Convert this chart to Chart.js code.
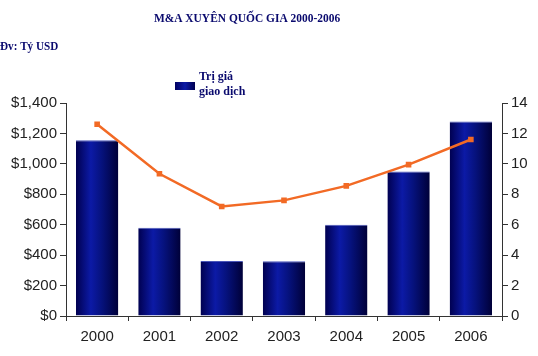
<!DOCTYPE html>
<html><head><meta charset="utf-8">
<script src="https://cdn.jsdelivr.net/npm/chart.js@4/dist/chart.umd.min.js"></script>
<style>html,body{margin:0;padding:0;background:#fff}#wrap{width:538px;height:356px;position:relative}</style>
</head><body><div id="wrap"><canvas id="c" width="538" height="356"></canvas></div>
<script>
const categories = ['2000','2001','2002','2003','2004','2005','2006'];
const dealValues = [1155, 580, 362, 360, 600, 950, 1278];
const dealCounts = [12.6, 9.35, 7.2, 7.6, 8.55, 9.95, 11.6];
const leftTicks = [0,200,400,600,800,1000,1200,1400];
const rightTicks = [0,2,4,6,8,10,12,14];
const titleText = 'M&A XUYÊN QUỐC GIA 2000-2006';
const unitText = 'Đv: Tỷ USD';
const legendLines = ['Trị giá','giao dịch'];

const navy = '#0a0a6e';
const serif = '"Liberation Serif","Times New Roman",serif';
const sans = 'Arial, "Liberation Sans", sans-serif';

function barFill(ctx){
  const chart = ctx.chart;
  if (!chart.chartArea || !chart.scales.x) return '#000080';
  const xs = chart.scales.x;
  const x = xs.getPixelForValue(ctx.dataIndex);
  const w = xs.width / categories.length * 0.68;
  const g = chart.ctx.createLinearGradient(x - w/2, 0, x + w/2, 0);
  g.addColorStop(0, '#000050');
  g.addColorStop(0.35, '#0c1aa6');
  g.addColorStop(0.6, '#06127e');
  g.addColorStop(1, '#000038');
  return g;
}

function scaledText(c, text, x, y, sx, align){
  c.save();
  c.translate(x, y);
  c.scale(sx, 1);
  c.textAlign = align;
  c.fillText(text, 0, 0);
  c.restore();
}

const decor = {
  id: 'decor',
  afterDraw(chart){
    const c = chart.ctx;
    c.save();
    c.fillStyle = navy;
    c.textBaseline = 'middle';
    c.font = 'bold 13px ' + serif;
    scaledText(c, titleText, 247, 19, 0.88, 'center');
    c.font = 'bold 12px ' + serif;
    scaledText(c, unitText, 0, 47, 0.93, 'left');
    // legend
    const g = c.createLinearGradient(175, 0, 195, 0);
    g.addColorStop(0, '#000060'); g.addColorStop(0.5, '#0c1aa6'); g.addColorStop(1, '#000050');
    c.fillStyle = g;
    c.fillRect(175, 82, 20, 8);
    c.fillStyle = navy;
    c.textAlign = 'left';
    c.fillText(legendLines[0], 199, 77);
    c.fillText(legendLines[1], 199, 92);
    c.restore();
  }
};

new Chart(document.getElementById('c'), {
  data: {
    labels: categories,
    datasets: [
      { type: 'line', label: 'Số giao dịch', data: dealCounts, yAxisID: 'y1',
        borderColor: '#f26a25', backgroundColor: '#f26a25', borderWidth: 2.5,
        pointStyle: 'rect', pointRadius: 2.2, tension: 0, order: 0 },
      { type: 'bar', label: 'Trị giá giao dịch', data: dealValues, yAxisID: 'y',
        backgroundColor: barFill, borderColor: '#4a56b8', borderWidth: {top:1,left:0,right:0,bottom:0},
        categoryPercentage: 1, barPercentage: 0.68, order: 1 }
    ]
  },
  options: {
    responsive: false, animation: false,
    layout: { padding: { top: 103, left: 0, right: 0, bottom: 0 } },
    plugins: { legend: { display: false }, tooltip: { enabled: false } },
    scales: {
      x: {
        offset: true,
        grid: { display: true, drawOnChartArea: false, offset: true, color: '#333', tickLength: 5 },
        border: { color: '#333', width: 1 },
        ticks: { color: '#222', font: { family: sans, size: 15 }, padding: 7 },
        afterFit(s){ s.height = 40; }
      },
      y: {
        position: 'left', min: 0, max: 1400,
        afterBuildTicks(s){ s.ticks = leftTicks.map(v => ({value: v})); },
        grid: { display: true, drawOnChartArea: false, color: '#333', tickLength: 6 },
        border: { color: '#333', width: 1 },
        ticks: { color: '#222', font: { family: sans, size: 15 }, padding: 3,
          callback: v => '$' + v.toLocaleString('en-US') },
        afterFit(s){ s.width = 66; }
      },
      y1: {
        position: 'right', min: 0, max: 14,
        afterBuildTicks(s){ s.ticks = rightTicks.map(v => ({value: v})); },
        grid: { display: true, drawOnChartArea: false, color: '#333', tickLength: 6 },
        border: { color: '#333', width: 1 },
        ticks: { color: '#222', font: { family: sans, size: 15 }, padding: 3 },
        afterFit(s){ s.width = 36; }
      }
    }
  },
  plugins: [decor]
});
</script></body></html>
